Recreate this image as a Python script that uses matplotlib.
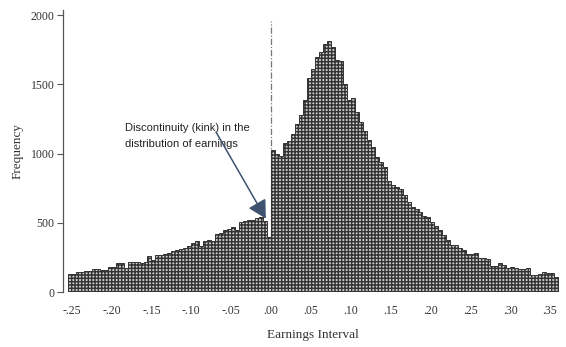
import numpy as np
import matplotlib
matplotlib.use("Agg")
import matplotlib.pyplot as plt

# ---- data ----
bin_start = -0.255
bin_width = 0.005
frequency = [
    128, 128, 142, 142, 151, 151, 164, 164, 157, 157,
    178, 180, 207, 207, 171, 214, 214, 214, 212, 216,
    260, 231, 265, 268, 277, 281, 296, 300, 312, 318,
    335, 355, 368, 330, 368, 372, 370, 420, 428, 450,
    456, 472, 448, 505, 512, 518, 522, 538, 540, 510,
    400,
    1025, 1000, 985, 1075, 1090, 1140, 1210, 1280, 1390, 1545,
    1610, 1700, 1735, 1790, 1815, 1770, 1675, 1665, 1500, 1390,
    1400, 1300, 1225, 1160, 1100, 1050, 975, 940, 900, 805,
    775, 760, 745, 700, 652, 616, 600, 580, 550, 540,
    508, 477, 448, 412, 375, 339, 339, 315, 303, 274,
    274, 279, 243, 243, 236, 188, 188, 207, 195, 171,
    178, 175, 164, 166, 171, 123, 125, 130, 147, 135,
    135, 110,
]
x_ticks = [-0.25, -0.20, -0.15, -0.10, -0.05, 0.00, 0.05, 0.10, 0.15, 0.20, 0.25, 0.30, 0.35]
x_tick_labels = ["-.25", "-.20", "-.15", "-.10", "-.05", ".00", ".05", ".10", ".15", ".20", ".25", ".30", ".35"]
y_ticks = [0, 500, 1000, 1500, 2000]
y_tick_labels = ["0", "500", "1000", "1500", "2000"]
annotation_text = "Discontinuity (kink) in the\ndistribution of earnings"
x_label = "Earnings Interval"
y_label = "Frequency"

edges = bin_start + bin_width * np.arange(len(frequency) + 1)

plt.rcParams["hatch.linewidth"] = 1.05
serif = ["Liberation Serif", "DejaVu Serif"]

fig = plt.figure(figsize=(5.66, 3.47), dpi=100)
ax = fig.add_axes([0.1113, 0.1585, 0.8816, 0.814])

# dashed reference line at zero (behind the bars)
ax.plot([0, 0], [0, 1960], color="#777777", lw=0.9, ls=(0, (5, 1.5, 1, 1.5)), zorder=1)

ax.stairs(frequency, edges, fill=True, facecolor="#d2d2d2",
          edgecolor="#333333", hatch="+++++", linewidth=0.7, zorder=2)

ax.set_xlim(-0.261, 0.365)
ax.set_ylim(0, 2040)

ax.set_xticks(x_ticks)
ax.set_xticklabels(x_tick_labels, fontfamily=serif, fontsize=8.5, color="#333333")
ax.set_yticks(y_ticks)
ax.set_yticklabels(y_tick_labels, fontfamily=serif, fontsize=8.5, color="#333333")
ax.tick_params(axis="x", length=0, pad=9)
ax.tick_params(axis="y", length=4, width=0.8, color="#555555", pad=2)

for s in ["top", "right", "bottom"]:
    ax.spines[s].set_visible(False)
ax.spines["left"].set_linestyle((0, (1.5, 1)))
ax.spines["left"].set_color("#555555")
ax.spines["left"].set_linewidth(0.9)

ax.set_xlabel(x_label, fontfamily=serif, fontsize=9.5, color="#333333", labelpad=9)
ax.set_ylabel(y_label, fontfamily=serif, fontsize=9.5, color="#333333", labelpad=5)

ax.text(-0.183, 1130, annotation_text, fontsize=8,
        family=["Liberation Sans Narrow", "Liberation Sans", "DejaVu Sans"],
        ha="left", va="center", linespacing=1.75, color="#222222", zorder=3)

ax.annotate("", xy=(-0.0065, 530), xytext=(-0.069, 1155),
            arrowprops=dict(arrowstyle="-|>,head_length=1.1,head_width=0.6",
                            color="#3e5270", lw=1.1, shrinkA=0, shrinkB=0),
            zorder=4)

fig.savefig("out.png", dpi=100)
